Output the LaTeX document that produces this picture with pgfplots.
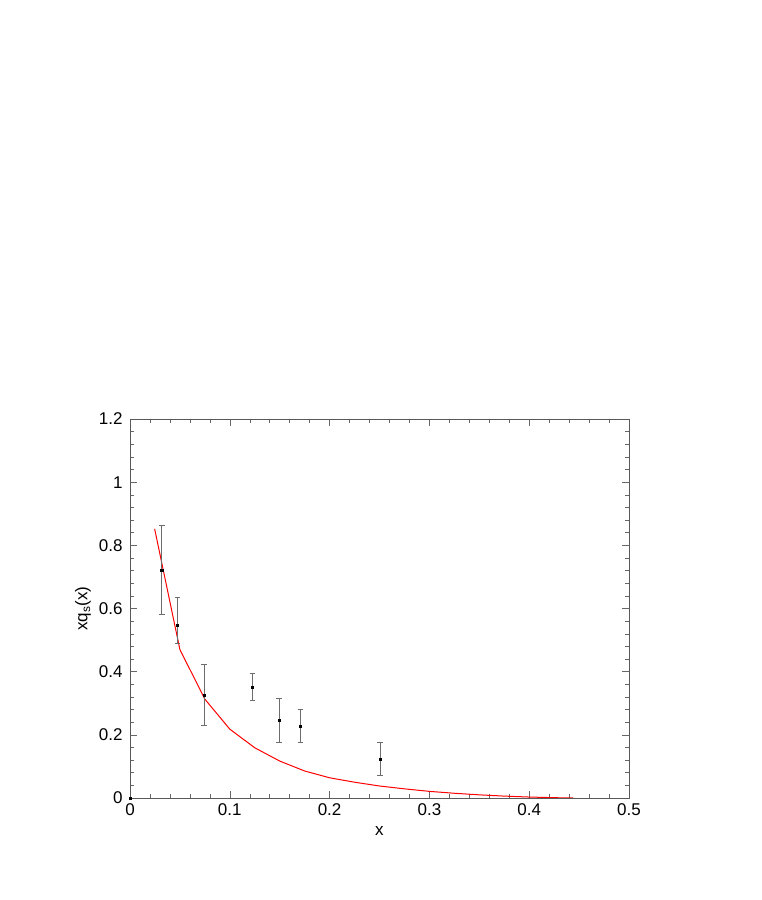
\documentclass[border=0pt]{standalone}
\usepackage{pgfplots}
\pgfplotsset{compat=1.18}
\usepackage{fontspec}
\setmainfont{Liberation Sans}
\begin{document}
\begin{tikzpicture}[x=1pt,y=1pt]
\path[use as bounding box] (0,0) rectangle (761,900);
\begin{axis}[
  at={(130pt,102pt)}, anchor=south west,
  scale only axis, width=499pt, height=379pt,
  xmin=0, xmax=0.5, ymin=0, ymax=1.2,
  xtick distance=0.1, ytick distance=0.2,
  minor tick num=4,
  tick align=inside,
  major tick length=7pt, minor tick length=4pt,
  every tick/.style={gray!80!black, line width=0.5pt},
  axis line style={gray!70!black, line width=0.6pt},
  /pgf/number format/assume math mode=true,
  tick label style={font=\fontsize{17}{20}\selectfont},
  label style={font=\fontsize{17}{20}\selectfont},
  xticklabel style={yshift=-2pt},
  yticklabel style={xshift=-4pt},
  xlabel={x}, ylabel={xq$_{\mathrm{s}}$(x)},
  xlabel style={yshift=-4pt},
  ylabel style={yshift=1pt},
  scaled ticks=false,
  yticklabel={\pgfmathprintnumber[fixed,precision=1]{\tick}},
  xticklabel={\pgfmathprintnumber[fixed,precision=1]{\tick}},
]
\addplot[red, line width=1pt] coordinates {
(0.0247,0.852) (0.05,0.47) (0.075,0.313) (0.1,0.218) (0.125,0.159)
(0.15,0.117) (0.175,0.0855) (0.2,0.064) (0.225,0.050) (0.25,0.038)
(0.275,0.029) (0.3,0.021) (0.325,0.015) (0.35,0.010) (0.375,0.006)
(0.4,0.003) (0.425,0.001) (0.444,0.0)
};
\addplot[only marks, mark=square*, mark size=1.1pt, black,
  error bars/.cd, y dir=both, y explicit,
  error bar style={gray!85!black, line width=0.8pt},
  error mark options={rotate=90, mark size=2.8pt, gray!85!black, line width=0.8pt}]
coordinates {
(0.0,0.0)
(0.0318,0.722) += (0,0.142) -= (0,0.140)
(0.0474,0.547) += (0,0.087) -= (0,0.059)
(0.0741,0.326) += (0,0.097) -= (0,0.097)
(0.1226,0.351) += (0,0.045) -= (0,0.043)
(0.1493,0.246) += (0,0.070) -= (0,0.070)
(0.1707,0.228) += (0,0.053) -= (0,0.052)
(0.2508,0.122) += (0,0.053) -= (0,0.052)
};
\end{axis}
\end{tikzpicture}
\end{document}
